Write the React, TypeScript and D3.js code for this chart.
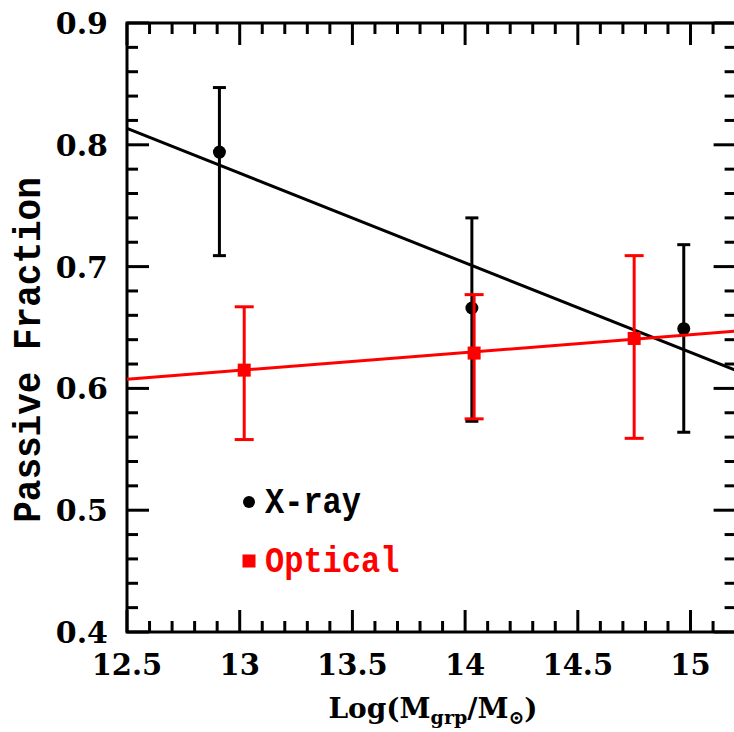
import React, { useEffect, useRef } from 'react'
import * as d3 from 'd3'

// X-ray selected groups
const xrayMass = [12.91, 14.03, 14.97]
const xrayFrac = [0.794, 0.666, 0.649]
const xrayHi = [0.847, 0.740, 0.718]
const xrayLo = [0.709, 0.573, 0.564]

// optically selected groups
const optMass = [13.02, 14.04, 14.75]
const optFrac = [0.615, 0.629, 0.641]
const optHi = [0.667, 0.677, 0.709]
const optLo = [0.558, 0.575, 0.559]

// straight-line fits, evaluated at the x-axis ends
const fitMass = [12.5, 15.2]
const xrayFit = [0.8135, 0.6148]
const optFit = [0.6075, 0.647]

const xTickLabels = ['12.5', '13', '13.5', '14', '14.5', '15']
const yTickLabels = ['0.4', '0.5', '0.6', '0.7', '0.8', '0.9']

const legendNames = ['X-ray', 'Optical']

export default function App() {
	const ref = useRef<SVGSVGElement>(null)

	const width = 734
	const height = 732

	useEffect(() => {
		drawChart()
	// eslint-disable-next-line react-hooks/exhaustive-deps
	}, [])

	const drawChart = () => {
		const svg = d3.select(ref.current)
		svg.selectAll('*').remove()

		const x = d3.scaleLinear().domain([12.5, 15.2]).range([127, 735.6])
		const y = d3.scaleLinear().domain([0.4, 0.9]).range([632, 23])
		const [x0, x1] = x.range()
		const [yb, yt] = y.range()

		const majorLen = 22
		const minorLen = 11

		// ticks, all four sides
		const ticks = svg.append('g').attr('stroke', '#000').attr('stroke-width', 3)
		d3.range(125, 153).forEach((v) => {
			const len = v % 5 === 0 ? majorLen : minorLen
			const px = x(v / 10)
			ticks.append('line').attr('x1', px).attr('x2', px).attr('y1', yb).attr('y2', yb - len)
			ticks.append('line').attr('x1', px).attr('x2', px).attr('y1', yt).attr('y2', yt + len)
		})
		d3.range(20, 46).forEach((v) => {
			const len = v % 5 === 0 ? majorLen : minorLen
			const py = y(v / 50)
			ticks.append('line').attr('x1', x0).attr('x2', x0 + len).attr('y1', py).attr('y2', py)
			ticks.append('line').attr('x1', x1).attr('x2', x1 - len).attr('y1', py).attr('y2', py)
		})

		// frame
		svg.append('rect')
			.attr('x', x0).attr('y', yt)
			.attr('width', x1 - x0).attr('height', yb - yt)
			.attr('fill', 'none').attr('stroke', '#000').attr('stroke-width', 3)

		// tick labels
		svg.append('g').selectAll('text').data(xTickLabels).enter()
			.append('text')
			.attr('x', (d) => x(+d))
			.attr('y', 675)
			.attr('text-anchor', 'middle')
			.style('font-family', 'DejaVu Serif')
			.style('font-weight', 'bold')
			.style('font-size', '29px')
			.text((d) => d)

		svg.append('g').selectAll('text').data(yTickLabels).enter()
			.append('text')
			.attr('x', 108)
			.attr('y', (d) => y(+d) + 11)
			.attr('text-anchor', 'end')
			.style('font-family', 'DejaVu Serif')
			.style('font-weight', 'bold')
			.style('font-size', '30px')
			.text((d) => d)

		// axis titles
		const xt = svg.append('text')
			.attr('x', 433)
			.attr('y', 718)
			.attr('text-anchor', 'middle')
			.style('font-family', 'DejaVu Serif')
			.style('font-weight', 'bold')
			.style('font-size', '28px')
		xt.append('tspan').text('Log(M')
		xt.append('tspan').attr('dy', 6).style('font-size', '19px').text('grp')
		xt.append('tspan').attr('dy', -6).text('/M')
		xt.append('tspan').attr('dy', 6).style('font-size', '19px').text('\u2299')
		xt.append('tspan').attr('dy', -6).text(')')

		svg.append('text')
			.attr('transform', 'translate(40, 350) rotate(-90) scale(1, 1.1)')
			.attr('text-anchor', 'middle')
			.style('font-family', 'Liberation Mono')
			.style('font-weight', 'bold')
			.style('font-size', '36px')
			.text('Passive Fraction')

		const line = d3.line<number>().x((d, i) => x(fitMass[i])).y((d) => y(d))

		const drawSeries = (mass: number[], frac: number[], hi: number[], lo: number[], fit: number[], color: string, capHalf: number, square: boolean) => {
			const g = svg.append('g')
			g.append('path')
				.attr('d', line(fit))
				.attr('fill', 'none')
				.attr('stroke', color)
				.attr('stroke-width', 3)

			mass.forEach((m, i) => {
				const px = x(m)
				g.append('line')
					.attr('x1', px).attr('x2', px)
					.attr('y1', y(lo[i])).attr('y2', y(hi[i]))
					.attr('stroke', color).attr('stroke-width', 3)
				;[lo[i], hi[i]].forEach((v) => {
					g.append('line')
						.attr('x1', px - capHalf).attr('x2', px + capHalf)
						.attr('y1', y(v)).attr('y2', y(v))
						.attr('stroke', color).attr('stroke-width', 3)
				})
				if (square) {
					g.append('rect')
						.attr('x', px - 6.5).attr('y', y(frac[i]) - 6.5)
						.attr('width', 13).attr('height', 13)
						.attr('fill', color)
				} else {
					g.append('circle')
						.attr('cx', px).attr('cy', y(frac[i]))
						.attr('r', 6.5)
						.attr('fill', color)
				}
			})
		}

		drawSeries(xrayMass, xrayFrac, xrayHi, xrayLo, xrayFit, '#000', 6.5, false)
		drawSeries(optMass, optFrac, optHi, optLo, optFit, '#ff0000', 9.5, true)

		// legend
		const legendColors = ['#000', '#ff0000']
		const legendY = [502, 561]
		legendNames.forEach((name, i) => {
			if (i === 0) {
				svg.append('circle').attr('cx', 249).attr('cy', legendY[i]).attr('r', 6).attr('fill', legendColors[i])
			} else {
				svg.append('rect').attr('x', 242.5).attr('y', legendY[i] - 6.5).attr('width', 13).attr('height', 13).attr('fill', legendColors[i])
			}
			svg.append('text')
				.attr('transform', `translate(265, ${legendY[i] + 11}) scale(1, 1.15)`)
				.style('font-family', 'Liberation Mono')
				.style('font-weight', 'bold')
				.style('font-size', '32px')
				.attr('fill', legendColors[i])
				.text(name)
		})
	}

	return (
		<svg
			ref={ref}
			width={width}
			height={height}
			style={{ position: 'absolute', left: 0, top: 0, background: '#fff' }}
		/>
	)
}
